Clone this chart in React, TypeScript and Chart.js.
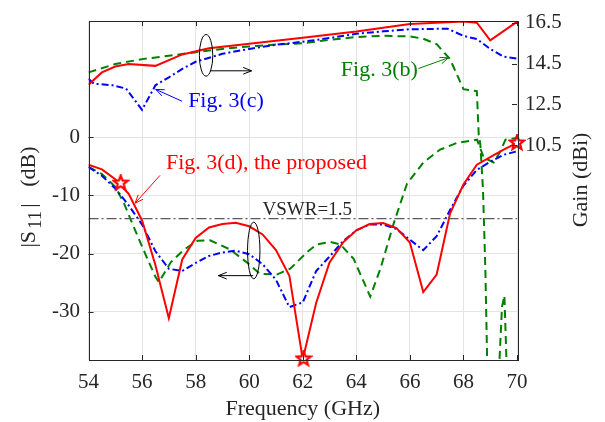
import React, { useEffect, useRef } from 'react';
import { Chart, registerables } from 'chart.js';

Chart.register(...registerables);

const FONT = "'Liberation Serif', 'Times New Roman', Times, serif";
const RED = '#ff0000';
const BLUE = '#0000ff';
const GREEN = '#008000';
const INK = '#262626';
const GRID = '#e4e4e4';

// ---------- data ----------
const xTicks = [54, 56, 58, 60, 62, 64, 66, 68, 70];
const s11Ticks = [-30, -20, -10, 0];
const gainTicks = [10.5, 12.5, 14.5, 16.5];

const freqS11 = [54, 54.5, 55, 55.5, 56, 56.5, 57, 57.5, 58, 58.5, 59, 59.5, 60, 60.5, 61, 61.5, 62,
  62.5, 63, 63.5, 64, 64.5, 65, 65.5, 66, 66.5, 67, 67.5, 68, 68.5, 69, 69.5, 70];
const s11Proposed = [-4.7, -5.5, -7.2, -9.7, -14.3, -22.0, -31.1, -21.0, -17.3, -15.5, -14.9, -14.7, -15.3,
  -16.7, -19.4, -23.8, -38.2, -28.5, -21.5, -18.1, -16.0, -14.9, -14.75, -15.6, -18.1, -26.6, -23.6,
  -13.1, -8.1, -4.7, -3.4, -2.1, -0.95];
const s11FigC = [-5.1, -6.6, -8.8, -11.7, -15.0, -19.6, -22.6, -23.0, -21.6, -20.4, -19.8, -19.5, -20.1,
  -21.8, -24.5, -29.2, -28.4, -23.0, -20.5, -17.9, -16.0, -15.0, -15.0, -15.76, -17.6, -19.4, -17.0,
  -12.5, -8.3, -5.6, -4.2, -3.0, -2.4];

const freqS11FigB = [54, 54.5, 55, 55.33, 55.58, 55.89, 56.2, 56.5, 56.63, 57.07, 57.57, 58.07, 58.54,
  59.29, 59.91, 60.41, 61.03, 61.53, 62.15, 62.53, 63.03, 63.4, 63.9, 64.52, 64.9, 65.4, 65.89, 66.51,
  67.13, 67.76, 68.51, 68.76, 69.13, 69.38, 69.57, 70];
const s11FigB = [-5.1, -6.3, -8.5, -11.4, -14.2, -17.6, -20.9, -24.0, -24.9, -21.5, -19.3, -17.8, -17.7,
  -19.3, -21.5, -23.5, -23.6, -22.6, -19.8, -18.4, -18.0, -18.4, -20.9, -27.4, -22.6, -14.75, -8.0, -4.3,
  -2.1, -0.95, -0.4, -3.5, -4.3, -2.4, -0.4, -0.1];

const freqGainProposed = [54, 54.5, 55, 55.5, 56.5, 57.5, 58.5, 60, 62, 64, 66, 68, 68.5, 69, 70];
const gainProposed = [13.47, 14.07, 14.36, 14.48, 14.39, 14.95, 15.25, 15.47, 15.77, 16.07, 16.44, 16.56,
  16.5, 15.64, 16.55];

const freqGainFigC = [54, 54.2, 54.9, 55.4, 56, 56.5, 57, 57.5, 58, 59, 60, 61, 62, 63, 64, 65, 66, 67.4,
  68, 68.5, 69, 69.5, 70];
const gainFigC = [13.76, 13.52, 13.44, 13.28, 12.24, 13.44, 13.83, 14.24, 14.59, 14.98, 15.22, 15.42,
  15.57, 15.75, 15.96, 16.08, 16.18, 16.21, 15.86, 15.7, 15.22, 14.84, 14.74];

const freqGainFigB = [54, 55, 56, 57, 58, 59, 60, 61, 62, 63, 64, 65, 66, 66.5, 67, 67.5, 68, 68.5, 68.57,
  68.63, 68.73, 68.82, 68.9, 69.31, 69.44, 69.53, 69.63, 70];
const gainFigB = [14.07, 14.48, 14.72, 14.88, 15.06, 15.22, 15.34, 15.43, 15.5, 15.66, 15.8, 15.86, 15.83,
  15.72, 15.45, 14.72, 13.25, 13.15, 11.05, 10.57, 8.33, 4.35, -1, -1, 2.6, 3.15, -1, -1];

const starFreq = [55.2, 62.03, 70];
const starS11 = [-7.87, -38.1, -0.95];

const vswrFreq = [54, 70];
const vswrS11 = [-13.98, -13.98];

// ---------- annotations (data coordinates on the |S11| axis) ----------
const labels = [
  { text: 'Fig. 3(c)', color: BLUE, f: 57.72, v: 5.21, size: 22 },
  { text: 'Fig. 3(b)', color: GREEN, f: 63.42, v: 10.61, size: 22 },
  { text: 'Fig. 3(d), the proposed', color: RED, f: 56.89, v: -5.41, size: 22 },
  { text: 'VSWR=1.5', color: INK, f: 60.5, v: -13.42, size: 19 },
];
const arrows = [
  { color: BLUE, f1: 57.49, v1: 6.22, f2: 56.51, v2: 8.25 },
  { color: GREEN, f1: 66.32, v1: 11.84, f2: 67.44, v2: 13.69 },
  { color: RED, f1: 56.67, v1: -6.54, f2: 55.74, v2: -11.32 },
  { color: '#000000', f1: 58.54, v1: 11.45, f2: 60.09, v2: 11.45 },
  { color: '#000000', f1: 60.15, v1: -23.79, f2: 58.85, v2: -23.79 },
];
const ellipses = [
  { f: 58.39, v: 14.11, rx: 6.7, ry: 20.8 },
  { f: 60.17, v: -19.46, rx: 6.2, ry: 28.3 },
];

const pts = (xs: number[], ys: number[]) => xs.map((x, i) => ({ x, y: ys[i] }));

function makeStar(): HTMLCanvasElement {
  const c = document.createElement('canvas');
  c.width = 18;
  c.height = 18;
  const g = c.getContext('2d')!;
  g.beginPath();
  for (let i = 0; i < 10; i++) {
    const r = i % 2 === 0 ? 7.5 : 3.2;
    const a = -Math.PI / 2 + (i * Math.PI) / 5;
    g.lineTo(9 + r * Math.cos(a), 9 + r * Math.sin(a));
  }
  g.closePath();
  g.fillStyle = '#ffffff';
  g.fill();
  g.strokeStyle = RED;
  g.lineWidth = 2.2;
  g.stroke();
  return c;
}

function drawArrow(ctx: CanvasRenderingContext2D, x1: number, y1: number, x2: number, y2: number, color: string) {
  ctx.strokeStyle = color;
  ctx.lineWidth = 1;
  ctx.setLineDash([]);
  ctx.beginPath();
  ctx.moveTo(x1, y1);
  ctx.lineTo(x2, y2);
  ctx.stroke();
  const ang = Math.atan2(y2 - y1, x2 - x1);
  const head = 9;
  const spread = 0.38;
  ctx.beginPath();
  ctx.moveTo(x2 - head * Math.cos(ang - spread), y2 - head * Math.sin(ang - spread));
  ctx.lineTo(x2, y2);
  ctx.lineTo(x2 - head * Math.cos(ang + spread), y2 - head * Math.sin(ang + spread));
  ctx.stroke();
}

const decor = {
  id: 'decor',
  afterDraw(chart: any) {
    const { ctx, chartArea: a, scales } = chart;
    const xs = scales.x;
    const ys = scales.y;
    const y2 = scales.y2;
    ctx.save();

    // annotations
    labels.forEach((l) => {
      ctx.font = `${l.size}px ${FONT}`;
      ctx.fillStyle = l.color;
      ctx.textAlign = 'left';
      ctx.textBaseline = 'alphabetic';
      ctx.fillText(l.text, xs.getPixelForValue(l.f), ys.getPixelForValue(l.v));
    });
    arrows.forEach((r) =>
      drawArrow(ctx, xs.getPixelForValue(r.f1), ys.getPixelForValue(r.v1), xs.getPixelForValue(r.f2), ys.getPixelForValue(r.v2), r.color)
    );
    ctx.strokeStyle = '#000000';
    ctx.lineWidth = 1;
    ellipses.forEach((e) => {
      ctx.beginPath();
      ctx.ellipse(xs.getPixelForValue(e.f), ys.getPixelForValue(e.v), e.rx, e.ry, 0, 0, Math.PI * 2);
      ctx.stroke();
    });

    // frame
    ctx.strokeStyle = INK;
    ctx.lineWidth = 1;
    ctx.strokeRect(Math.round(a.left) + 0.5, Math.round(a.top) + 0.5, Math.round(a.right - a.left), Math.round(a.bottom - a.top));
    const tl = 5;
    ctx.beginPath();
    xTicks.forEach((t) => {
      const x = Math.round(xs.getPixelForValue(t)) + 0.5;
      ctx.moveTo(x, a.bottom);
      ctx.lineTo(x, a.bottom - tl);
      ctx.moveTo(x, a.top);
      ctx.lineTo(x, a.top + tl);
    });
    s11Ticks.forEach((t) => {
      const y = Math.round(ys.getPixelForValue(t)) + 0.5;
      ctx.moveTo(a.left, y);
      ctx.lineTo(a.left + tl, y);
    });
    gainTicks.forEach((t) => {
      const y = Math.round(y2.getPixelForValue(t)) + 0.5;
      ctx.moveTo(a.right, y);
      ctx.lineTo(a.right - tl, y);
    });
    ctx.stroke();

    // axis titles
    ctx.fillStyle = INK;
    ctx.font = `22px ${FONT}`;
    ctx.textAlign = 'center';
    ctx.textBaseline = 'middle';
    ctx.fillText('Frequency (GHz)', (a.left + a.right) / 2, 409);

    // right title
    ctx.save();
    ctx.translate(581.5, 180);
    ctx.rotate(-Math.PI / 2);
    ctx.fillText('Gain (dBi)', 0, 0);
    ctx.restore();

    // left title |S11| (dB)
    ctx.save();
    ctx.translate(27.5, 197);
    ctx.rotate(-Math.PI / 2);
    const big = `22px ${FONT}`;
    const small = `19px ${FONT}`;
    const parts = [
      { t: '|S', f: big, dy: 0, gap: 2 },
      { t: '11', f: small, dy: 6, gap: 3 },
      { t: '|', f: big, dy: 0, gap: 0 },
      { t: '   (dB)', f: big, dy: 0, gap: 0 },
    ];
    let total = 0;
    parts.forEach((p) => {
      ctx.font = p.f;
      total += ctx.measureText(p.t).width + p.gap;
    });
    let cx = -total / 2;
    ctx.textAlign = 'left';
    ctx.textBaseline = 'alphabetic';
    parts.forEach((p) => {
      ctx.font = p.f;
      ctx.fillText(p.t, cx, 7 + p.dy);
      cx += ctx.measureText(p.t).width + p.gap;
    });
    ctx.restore();

    ctx.restore();
  },
};

export default function App() {
  const ref = useRef<HTMLCanvasElement>(null);

  useEffect(() => {
    if (!ref.current) return;
    const star = makeStar();
    const tickFont = { family: FONT, size: 21 };
    const chart = new Chart(ref.current, {
      type: 'line',
      data: {
        datasets: [
          {
            data: pts(starFreq, starS11),
            yAxisID: 'y',
            showLine: false,
            pointStyle: star as any,
            pointRadius: 8,
            clip: false as any,
            borderColor: RED,
            backgroundColor: RED,
          },
          {
            data: pts(vswrFreq, vswrS11),
            yAxisID: 'y',
            borderColor: '#5a5a5a',
            borderWidth: 1.2,
            borderDash: [10, 3, 2, 3],
            pointRadius: 0,
          },
          {
            data: pts(freqS11, s11Proposed),
            yAxisID: 'y',
            borderColor: RED,
            borderWidth: 2,
            pointRadius: 0,
          },
          {
            data: pts(freqGainProposed, gainProposed),
            yAxisID: 'y2',
            borderColor: RED,
            borderWidth: 2,
            pointRadius: 0,
          },
          {
            data: pts(freqS11, s11FigC),
            yAxisID: 'y',
            borderColor: BLUE,
            borderWidth: 2,
            borderDash: [7, 3, 2, 3],
            pointRadius: 0,
          },
          {
            data: pts(freqGainFigC, gainFigC),
            yAxisID: 'y2',
            borderColor: BLUE,
            borderWidth: 2,
            borderDash: [7, 3, 2, 3],
            pointRadius: 0,
          },
          {
            data: pts(freqS11FigB, s11FigB),
            yAxisID: 'y',
            borderColor: GREEN,
            borderWidth: 2,
            borderDash: [8, 5],
            pointRadius: 0,
          },
          {
            data: pts(freqGainFigB, gainFigB),
            yAxisID: 'y2',
            borderColor: GREEN,
            borderWidth: 2,
            borderDash: [8, 5],
            pointRadius: 0,
            clip: 0 as any,
          },
        ],
      },
      options: {
        animation: false,
        responsive: false,
        devicePixelRatio: 1,
        layout: { padding: { top: 14, left: 0, right: 0, bottom: 0 } },
        plugins: { legend: { display: false }, tooltip: { enabled: false } },
        elements: { line: { tension: 0, fill: false } },
        scales: {
          x: {
            type: 'linear',
            min: 54,
            max: 70,
            afterBuildTicks: (s: any) => {
              s.ticks = xTicks.map((v) => ({ value: v }));
            },
            afterFit: (s: any) => {
              s.height = 62;
            },
            ticks: { font: tickFont, color: INK, padding: 10, maxRotation: 0, autoSkip: false, callback: (v: any) => String(v) },
            grid: { color: GRID, drawTicks: false, lineWidth: 1 },
            border: { display: false },
          },
          y: {
            type: 'linear',
            position: 'left',
            min: -38.3,
            max: 20,
            afterBuildTicks: (s: any) => {
              s.ticks = s11Ticks.map((v) => ({ value: v }));
            },
            afterFit: (s: any) => {
              s.width = 88.5;
            },
            ticks: { font: tickFont, color: INK, padding: 8.5, callback: (v: any) => String(v) },
            grid: { color: GRID, drawTicks: false, lineWidth: 1 },
            border: { display: false },
          },
          y2: {
            type: 'linear',
            position: 'right',
            min: 0,
            max: 16.58,
            afterBuildTicks: (s: any) => {
              s.ticks = gainTicks.map((v) => ({ value: v }));
            },
            afterFit: (s: any) => {
              s.width = 88;
            },
            ticks: { font: tickFont, color: INK, padding: 8, callback: (v: any) => Number(v).toFixed(1) },
            grid: { display: false, drawTicks: false },
            border: { display: false },
          },
        },
      },
      plugins: [decor],
    } as any);
    return () => chart.destroy();
  }, []);

  return (
    <div style={{ position: 'absolute', left: 0, top: 0, width: 605, height: 422, background: '#ffffff' }}>
      <canvas ref={ref} width={605} height={422} style={{ display: 'block' }} />
    </div>
  );
}
